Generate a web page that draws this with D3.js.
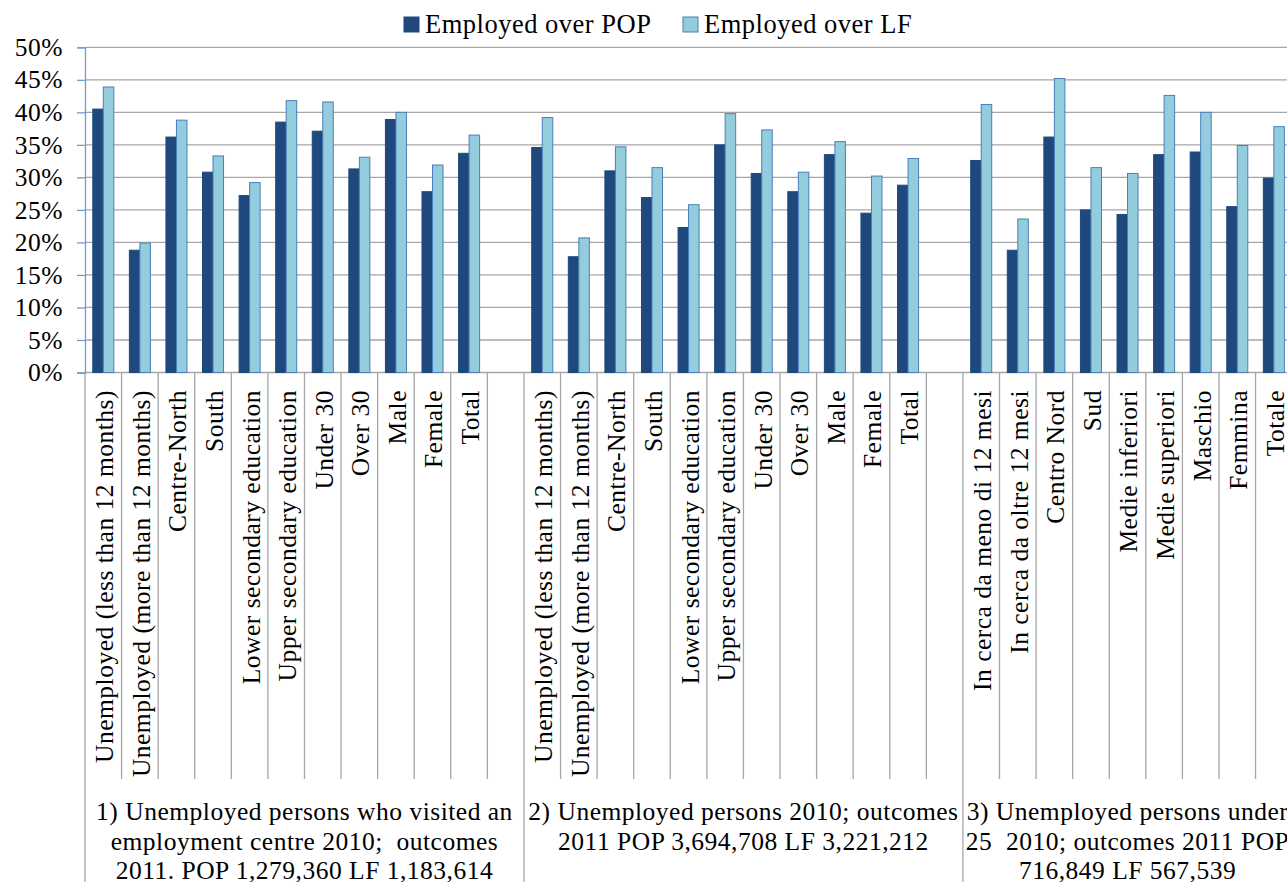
<!DOCTYPE html>
<html>
<head>
<meta charset="utf-8">
<script src="https://cdn.jsdelivr.net/npm/d3@7"></script>
<style>
  body { margin: 0; background: #fff; }
  svg { display: block; }
  svg text { font-family: "Liberation Serif", "Times New Roman", Times, "DejaVu Serif", serif; font-size: 25.5px; letter-spacing: 0.5px; fill: #000; }
  .grid line { stroke: #a6a6a6; stroke-width: 1.3; }
  .sep { stroke: #a6a6a6; stroke-width: 1.3; }
</style>
</head>
<body>
<div id="chart"></div>
<script>
const series = ["Employed over POP", "Employed over LF"];
const colors = ["#1f497d", "#93cddd"];
const strokes = ["#1f497d", "#4a7ebb"];

const group1Cats = ["Unemployed (less than 12 months)", "Unemployed (more than 12 months)", "Centre-North", "South",
  "Lower secondary education", "Upper secondary education", "Under 30", "Over 30", "Male", "Female", "Total"];
const group1Pop = [40.5, 18.8, 36.2, 30.8, 27.2, 38.5, 37.1, 31.3, 38.9, 27.8, 33.7];
const group1Lf  = [43.9, 19.9, 38.8, 33.3, 29.2, 41.8, 41.6, 33.1, 40.0, 31.9, 36.5];

const group2Cats = group1Cats;
const group2Pop = [34.6, 17.8, 31.0, 26.9, 22.3, 35.0, 30.6, 27.8, 33.5, 24.5, 28.8];
const group2Lf  = [39.2, 20.7, 34.7, 31.5, 25.8, 39.8, 37.3, 30.8, 35.5, 30.2, 32.9];

const group3Cats = ["In cerca da meno di 12 mesi", "In cerca da oltre 12 mesi", "Centro Nord", "Sud",
  "Medie inferiori", "Medie superiori", "Maschio", "Femmina", "Totale"];
const group3Pop = [32.6, 18.8, 36.2, 25.0, 24.3, 33.5, 33.9, 25.5, 29.9];
const group3Lf  = [41.2, 23.6, 45.2, 31.5, 30.6, 42.6, 40.0, 34.9, 37.8];

const groupLabels = [
  ["1) Unemployed persons who visited an", "employment centre 2010;  outcomes", "2011. POP 1,279,360 LF 1,183,614"],
  ["2) Unemployed persons 2010; outcomes", "2011 POP 3,694,708 LF 3,221,212"],
  ["3) Unemployed persons under", "25  2010; outcomes 2011 POP", "716,849 LF 567,539"]
];

const yTicks = [0, 5, 10, 15, 20, 25, 30, 35, 40, 45, 50];

// build slots: each group gets its categories plus a blank slot (except the last)
const groups = [
  { cats: group1Cats, pop: group1Pop, lf: group1Lf, blank: 1 },
  { cats: group2Cats, pop: group2Pop, lf: group2Lf, blank: 1 },
  { cats: group3Cats, pop: group3Pop, lf: group3Lf, blank: 0 }
];
const slots = [];
groups.forEach((g, gi) => {
  g.cats.forEach((c, i) => slots.push({ id: gi + "-" + i, group: gi, label: c, values: [g.pop[i], g.lf[i]] }));
  for (let b = 0; b < g.blank; b++) slots.push({ id: gi + "-blank" + b, group: gi, label: null, values: null });
});

const width = 1287, height = 882;
const plotLeft = 85, plotTop = 47.3, plotBottom = 372.5;
const slotW = 36.58;

const svg = d3.select("#chart").append("svg")
  .attr("width", width)
  .attr("height", height);

const x = d3.scaleBand()
  .domain(slots.map(d => d.id))
  .range([plotLeft, plotLeft + slots.length * slotW])
  .padding(0);

const xInner = d3.scaleBand()
  .domain(series)
  .range([0, x.bandwidth()])
  .paddingInner(0)
  .paddingOuter(0.74);

const y = d3.scaleLinear()
  .domain([0, 50])
  .range([plotBottom, plotTop]);

// gridlines
svg.append("g")
  .attr("class", "grid")
  .selectAll("line")
  .data(yTicks.filter(t => t > 0))
  .enter().append("line")
  .attr("x1", plotLeft)
  .attr("x2", x.range()[1])
  .attr("y1", d => y(d))
  .attr("y2", d => y(d));

// category separators
const sepX = slots.map((d, i) => ({ x: x(d.id), groupStart: i === 0 || slots[i - 1].group !== d.group }));
sepX.push({ x: x.range()[1], groupStart: true });
svg.append("g")
  .selectAll("line")
  .data(sepX)
  .enter().append("line")
  .attr("class", "sep")
  .attr("x1", d => d.x)
  .attr("x2", d => d.x)
  .attr("y1", plotBottom)
  .attr("y2", d => d.groupStart ? height : 779);

// baseline
svg.append("line")
  .attr("class", "sep")
  .attr("x1", plotLeft)
  .attr("x2", x.range()[1])
  .attr("y1", plotBottom)
  .attr("y2", plotBottom);

// bars
const bars = svg.append("g")
  .selectAll("g")
  .data(slots.filter(d => d.values))
  .enter().append("g")
  .attr("transform", d => `translate(${x(d.id)},0)`);

bars.selectAll("rect")
  .data(d => d.values.map((v, i) => ({ key: series[i], v, i })))
  .enter().append("rect")
  .attr("x", d => xInner(d.key))
  .attr("width", xInner.bandwidth())
  .attr("y", d => y(d.v))
  .attr("height", d => plotBottom - y(d.v))
  .attr("fill", d => colors[d.i])
  .attr("stroke", d => strokes[d.i])
  .attr("stroke-width", 1);

// y axis
const yAxis = d3.axisLeft(y)
  .tickValues(yTicks)
  .tickSize(8)
  .tickPadding(14)
  .tickFormat(d => d + "%");

const yg = svg.append("g")
  .attr("transform", `translate(${plotLeft},0)`)
  .call(yAxis)
  .attr("font-family", null)
  .attr("font-size", null);
yg.select(".domain").attr("stroke", "#6f9bd2").attr("stroke-width", 1.3);
yg.selectAll(".tick line").attr("stroke", "#6f9bd2").attr("stroke-width", 1.3);
yg.selectAll(".tick text").attr("fill", null);

// category labels
svg.append("g")
  .selectAll("text")
  .data(slots.filter(d => d.label))
  .enter().append("text")
  .attr("transform", d => `translate(${x(d.id) + x.bandwidth() / 2 + 1},390) rotate(-90)`)
  .attr("text-anchor", "end")
  .attr("dy", "0.35em")
  .text(d => d.label);

// group labels
groups.forEach((g, gi) => {
  const gs = slots.filter(d => d.group === gi);
  const cx = (x(gs[0].id) + x(gs[gs.length - 1].id) + x.bandwidth()) / 2;
  svg.append("g")
    .selectAll("text")
    .data(groupLabels[gi])
    .enter().append("text")
    .attr("x", cx)
    .attr("y", (d, i) => 820 + i * 29.5)
    .attr("text-anchor", "middle")
    .style("white-space", "pre")
    .text(d => d);
});

// legend
const legendX = [404, 683];
const legend = svg.append("g")
  .selectAll("g")
  .data(series)
  .enter().append("g")
  .attr("transform", (d, i) => `translate(${legendX[i]},17)`);
legend.append("rect")
  .attr("width", 15)
  .attr("height", 15)
  .attr("fill", (d, i) => colors[i])
  .attr("stroke", (d, i) => strokes[i]);
legend.append("text")
  .attr("x", 21)
  .attr("y", 16)
  .style("font-size", "26.5px")
  .text(d => d);
</script>
</body>
</html>
